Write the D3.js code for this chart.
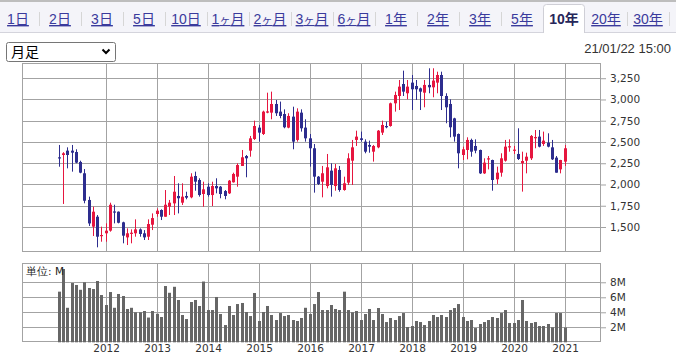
<!DOCTYPE html>
<html><head><meta charset="utf-8">
<script src="https://cdnjs.cloudflare.com/ajax/libs/d3/7.8.5/d3.min.js"></script>
<style>
html,body{margin:0;padding:0;background:#fff;}
svg{display:block;}
</style></head>
<body>
<script>
// ---------------- data ----------------
const tabLabels = ["1日","2日","3日","5日","10日","1ヶ月","2ヶ月","3ヶ月","6ヶ月","1年","2年","3年","5年","10年","20年","30年"];
const activeTab = "10年";
const periodLabel = "月足";
const stampLabel = "21/01/22 15:00";
const unitLabel = "単位: M";
const startMonth = "2011-02";   // first candle (monthly, 120 months)
const yearTicks = ["2012","2013","2014","2015","2016","2017","2018","2019","2020","2021"];
const priceTicks = [1500,1750,2000,2250,2500,2750,3000,3250];
const volTicks = [2,4,6,8];

const open  = [2320,2347,2398,2398,2382,2265,2132,1818,1504,1621,1398,1426,1457,1683,1680,1555,1378,1426,1426,1472,
               1426,1386,1527,1653,1700,1621,1739,1778,1865,1786,1865,1849,2100,2053,1888,1974,1876,1982,1974,1923,
               1896,2026,2092,2218,2335,2398,2535,2669,2594,2845,2845,2947,2857,2829,2669,2798,2524,2845,2669,2543,
               2426,2092,2033,1982,2163,1982,2171,1935,2022,2280,2524,2543,2504,2465,2386,2437,2610,2688,2688,2955,
               3041,3182,3073,3198,3159,3131,3080,3171,3143,3198,3288,3041,2947,2778,2594,2347,2406,2524,2453,2406,
               2131,2296,2288,2061,2139,2280,2440,2402,2359,2249,2280,2308,2550,2563,2476,2492,2437,2316,2178,2269];
const high  = [2465,2380,2437,2465,2414,2280,2182,1857,1739,1641,1504,1543,1786,1762,1683,1562,1484,1472,1590,1484,
               1464,1590,1660,1719,1708,1935,1818,2100,2014,2014,1915,2132,2151,2073,2033,2014,2033,2073,1982,1935,
               2053,2139,2249,2406,2347,2571,2751,2700,2868,3080,3092,2994,2975,2884,2838,2915,2896,2884,2767,2594,
               2476,2100,2218,2359,2249,2241,2218,2092,2367,2524,2633,2622,2531,2516,2465,2641,2751,2739,2963,3092,
               3229,3339,3229,3288,3229,3140,3229,3367,3367,3327,3327,3073,3002,2785,2600,2445,2555,2539,2531,2410,
               2308,2335,2292,2210,2367,2524,2531,2453,2661,2386,2374,2582,2641,2641,2622,2602,2524,2335,2290,2465];
const low   = [2209,1771,2190,2151,2250,2132,1779,1512,1394,1261,1327,1327,1445,1543,1543,1308,1288,1308,1386,1386,
               1347,1347,1464,1621,1582,1621,1641,1641,1660,1759,1826,1838,1927,1857,1739,1857,1747,1896,1838,1826,
               1888,2022,1974,2218,2085,2327,2524,2504,2582,2838,2767,2806,2779,2661,2661,2414,2504,2622,2504,2210,
               1904,1994,1849,1955,1857,1927,1915,1927,1994,1994,2453,2504,2367,2374,2269,2426,2582,2661,2680,2857,
               2876,3041,3002,2876,2994,2876,2908,3073,3026,3073,2876,2720,2555,2504,2190,2288,2296,2327,2367,2124,
               2124,2178,1927,2006,2092,2269,2386,2359,2288,1916,2131,2288,2426,2437,2453,2437,2288,2139,2131,2218];
const close = [2310,2367,2347,2374,2257,2139,1809,1542,1680,1386,1406,1457,1762,1676,1550,1398,1426,1433,1472,1418,
               1378,1535,1605,1692,1621,1762,1786,1915,1838,1857,1845,2092,2033,1876,1943,1876,1982,1955,1888,1865,
               2045,2124,2229,2320,2308,2543,2688,2610,2857,2860,2947,2838,2806,2673,2806,2504,2857,2661,2543,2426,
               2092,2006,2132,2202,1994,2190,1935,2014,2308,2437,2563,2524,2386,2445,2453,2633,2700,2673,2955,3053,
               3151,3092,3151,3120,3120,3092,3171,3143,3222,3288,3041,2908,2673,2563,2367,2414,2524,2386,2398,2131,
               2257,2308,2053,2139,2308,2445,2450,2410,2300,2276,2327,2571,2558,2445,2516,2445,2296,2139,2288,2426];
const volume = [6.75,9.77,4.6,7.9,7.64,7.0,8.0,7.24,7.1,8.17,6.3,4.97,6.7,4.6,6.44,6.17,4.44,4.6,4.0,4.0,
                4.17,3.3,4.17,3.8,3.37,7.5,6.6,7.4,5.64,3.64,3.1,5.37,5.64,4.84,8.1,4.3,4.3,6.04,3.77,2.3,
                4.84,3.64,5.1,5.24,4.04,3.5,6.57,2.84,4.04,4.84,3.64,2.97,3.9,3.5,3.64,2.97,2.84,3.24,4.6,3.77,
                5.1,6.7,4.3,4.3,4.97,4.44,4.3,6.75,4.3,4.0,4.17,2.97,3.77,4.44,2.97,4.57,3.77,2.7,3.24,2.97,
                3.5,3.9,2.04,2.17,2.84,2.7,2.3,2.84,3.64,3.37,3.64,3.37,4.3,4.57,5.1,3.37,2.84,2.97,1.9,2.44,
                2.7,2.97,3.37,3.24,3.9,4.3,2.57,2.57,2.97,5.64,2.84,2.57,2.7,2.17,2.17,2.44,2.0,3.9,3.9,1.97];

// ---------------- setup ----------------
const W = 676, H = 356;
const svg = d3.select("body").append("svg").attr("width", W).attr("height", H)
  .style("font-family", "'DejaVu Sans', Verdana, sans-serif");

const parse = d3.timeParse("%Y-%m");
const months = d3.timeMonths(parse(startMonth), d3.timeMonth.offset(parse(startMonth), open.length));
const candles = months.map((m, i) => ({m, i, o: open[i], h: high[i], l: low[i], c: close[i], v: volume[i]}));

const RED = "#e6163f", BLUE = "#2d2d8e", GRID = "#a3a3a3";

// ---------------- tab bar ----------------
const tabX = d3.scaleLinear().domain([0, 1]).range([18, 60]);
svg.append("rect").attr("x", 0).attr("y", 0).attr("width", W).attr("height", 32).attr("fill", "#f4f4f9");
svg.append("rect").attr("x", 0).attr("y", 0).attr("width", W).attr("height", 2).attr("fill", "#bdbdbd");
svg.append("line").attr("x1", 0).attr("x2", W).attr("y1", 32.5).attr("y2", 32.5).attr("stroke", "#d4d4dc");
const activeIdx = tabLabels.indexOf(activeTab);
tabLabels.forEach((t, k) => {
  if (k !== activeIdx && k !== activeIdx - 1) {
    svg.append("line").attr("x1", tabX(k + 0.5) + 0.5).attr("x2", tabX(k + 0.5) + 0.5)
      .attr("y1", 12).attr("y2", 26).attr("stroke", "#d6d6d6");
  }
});
{
  const a = tabX(activeIdx) - 20.5, b = tabX(activeIdx) + 20.5;
  svg.append("path").attr("d", `M${a},33 L${a},7.5 Q${a},4.5 ${a+3},4.5 L${b-3},4.5 Q${b},4.5 ${b},7.5 L${b},33`)
    .attr("fill", "#fff").attr("stroke", "#cfcfd6");
}
tabLabels.forEach((t, k) => {
  const active = k === activeIdx;
  const txt = svg.append("text").attr("x", tabX(k)).attr("y", 24).attr("text-anchor", "middle")
    .style("font-family", "Arial, 'Liberation Sans', 'Noto Sans CJK JP', sans-serif")
    .style("font-size", "14px").attr("fill", active ? "#26265a" : "#3a3a9c")
    .style("font-weight", active ? "bold" : "normal")
    .style("text-decoration", active ? "none" : "underline");
  // small ヶ
  const parts = t.split("ヶ");
  if (parts.length === 2) {
    txt.append("tspan").text(parts[0]);
    txt.append("tspan").style("font-size", "11px").text("ヶ");
    txt.append("tspan").text(parts[1]);
  } else txt.text(t);
});

// ---------------- select + timestamp ----------------
svg.append("rect").attr("x", 6.5).attr("y", 42.5).attr("width", 109).attr("height", 19).attr("rx", 2)
  .attr("fill", "#fff").attr("stroke", "#767676");
svg.append("text").attr("x", 11).attr("y", 57).text(periodLabel)
  .style("font-family", "'Noto Sans CJK JP', sans-serif").style("font-size", "14px").attr("fill", "#000");
svg.append("path").attr("d", "M102.5,49.5 L106,53 L109.5,49.5").attr("fill", "none").attr("stroke", "#000").attr("stroke-width", 2);
svg.append("text").attr("x", 671).attr("y", 53).attr("text-anchor", "end").text(stampLabel)
  .style("font-family", "Arial, 'Liberation Sans', sans-serif").style("font-size", "13px").attr("fill", "#333");

// ---------------- scales ----------------
const L = 22, R = 601;
const x = d3.scaleLinear().domain([-8.78, 127.46]).range([L, R]);
const yP = d3.scaleLinear().domain([1206, 3429]).range([252, 63]);
const yV = d3.scaleLinear().domain([0, 10.53]).range([342.3, 263.3]);
const yearIdx = yearTicks.map(y => candles.findIndex(c => c.m.getFullYear() === +y && c.m.getMonth() === 0));
const snap = v => Math.round(v) + 0.5;

// ---------------- price panel ----------------
const gP = svg.append("g");
gP.append("rect").attr("x", L + 0.5).attr("y", 63.5).attr("width", R - L - 1).attr("height", 252 - 63 - 1)
  .attr("fill", "#fff").attr("stroke", GRID);
gP.selectAll("line.hg").data(priceTicks).join("line").attr("class", "hg")
  .attr("x1", L).attr("x2", R).attr("y1", d => snap(yP(d))).attr("y2", d => snap(yP(d))).attr("stroke", GRID);
gP.selectAll("line.vg").data(yearIdx).join("line").attr("class", "vg")
  .attr("x1", d => snap(x(d))).attr("x2", d => snap(x(d))).attr("y1", 63).attr("y2", 252).attr("stroke", GRID);
const axP = d3.axisRight(yP).tickValues(priceTicks).tickSize(5).tickPadding(4).tickFormat(d3.format(","));
const gAxP = gP.append("g").attr("transform", `translate(${R},0)`).call(axP);
gAxP.select(".domain").remove();
gAxP.selectAll(".tick line").attr("stroke", GRID);
gAxP.selectAll(".tick text").attr("fill", "#333").style("font-size", "10.5px").style("font-family", "'DejaVu Sans', Verdana, sans-serif");

const cg = gP.append("g");
cg.selectAll("line.wick").data(candles).join("line").attr("class", "wick")
  .attr("x1", d => Math.floor(x(d.i)) + 0.5).attr("x2", d => Math.floor(x(d.i)) + 0.5)
  .attr("y1", d => yP(d.h)).attr("y2", d => yP(d.l))
  .attr("stroke", d => d.c >= d.o ? RED : BLUE).attr("stroke-width", 1);
cg.selectAll("rect.body").data(candles).join("rect").attr("class", "body")
  .attr("x", d => Math.floor(x(d.i)) - 1).attr("width", 3)
  .attr("y", d => yP(Math.max(d.o, d.c)))
  .attr("height", d => Math.max(1.2, Math.abs(yP(d.o) - yP(d.c))))
  .attr("fill", d => d.c >= d.o ? RED : BLUE);

// ---------------- volume panel ----------------
const gV = svg.append("g");
gV.append("rect").attr("x", L + 0.5).attr("y", 263.5).attr("width", R - L - 1).attr("height", 342 - 263 - 1)
  .attr("fill", "#fff").attr("stroke", GRID);
gV.selectAll("line.hg").data(volTicks).join("line").attr("class", "hg")
  .attr("x1", L).attr("x2", R).attr("y1", d => snap(yV(d))).attr("y2", d => snap(yV(d))).attr("stroke", GRID);
gV.selectAll("line.vg").data(yearIdx).join("line").attr("class", "vg")
  .attr("x1", d => snap(x(d))).attr("x2", d => snap(x(d))).attr("y1", 263).attr("y2", 342).attr("stroke", GRID);
gV.selectAll("rect.vol").data(candles).join("rect").attr("class", "vol")
  .attr("x", d => Math.floor(x(d.i)) - 1).attr("width", 3)
  .attr("y", d => yV(d.v)).attr("height", d => yV(0) - yV(d.v)).attr("fill", "#666");
const axV = d3.axisRight(yV).tickValues(volTicks).tickSize(5).tickPadding(4).tickFormat(d => d + "M");
const gAxV = gV.append("g").attr("transform", `translate(${R},0)`).call(axV);
gAxV.select(".domain").remove();
gAxV.selectAll(".tick line").attr("stroke", GRID);
gAxV.selectAll(".tick text").attr("fill", "#333").style("font-size", "10.5px").style("font-family", "'DejaVu Sans', Verdana, sans-serif");
gV.append("text").attr("x", 26).attr("y", 275).text(unitLabel)
  .style("font-size", "10.5px").attr("fill", "#222");

// year labels
const axX = d3.axisBottom(x).tickValues(yearIdx).tickSize(0).tickPadding(3)
  .tickFormat((d, k) => yearTicks[k]);
const gAxX = svg.append("g").attr("transform", "translate(0,342)").call(axX);
gAxX.select(".domain").remove();
gAxX.selectAll(".tick text").attr("fill", "#333").style("font-size", "10.5px").style("font-family", "'DejaVu Sans', Verdana, sans-serif");
</script>
</body></html>
